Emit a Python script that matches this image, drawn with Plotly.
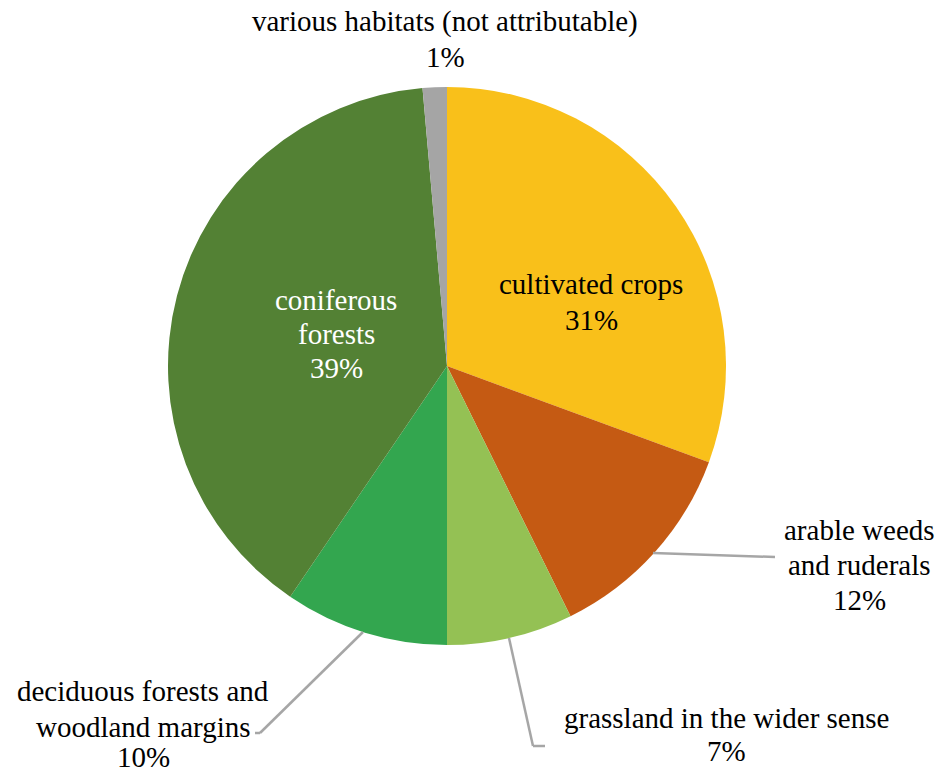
import plotly.graph_objects as go

W, H = 946, 769

categories = ["cultivated crops", "arable weeds and ruderals", "grassland in the wider sense",
              "deciduous forests and woodland margins", "coniferous forests",
              "various habitats (not attributable)"]
values = [30.6, 12.1, 7.3, 9.5, 39.1, 1.4]
pct_labels = ["31%", "12%", "7%", "10%", "39%", "1%"]
colors = ["#F9C01A", "#C55A13", "#94C154", "#33A64F", "#538134", "#A5A5A5"]

# label text split into lines as in the reference
label_lines = [["cultivated crops"], ["arable weeds", "and ruderals"], ["grassland in the wider sense"],
               ["deciduous forests and", "woodland margins"], ["coniferous", "forests"],
               ["various habitats (not attributable)"]]
label_x = [591, 859, 726, 143, 336, 445]
label_y = [[284, 320], [530, 565, 600], [718, 751], [691, 727, 757], [300, 334, 368], [22, 57]]
label_color = ["black", "black", "black", "black", "white", "black"]

FONT = "Liberation Serif"

cx, cy, r = 447, 366, 279

def px(x):
    return x / W

def py(y):
    return 1 - y / H

fig = go.Figure(go.Pie(
    labels=categories, values=values, sort=False, direction="clockwise", rotation=0,
    marker=dict(colors=colors, line=dict(width=0)), textinfo="none", hoverinfo="label+percent",
    domain=dict(x=[px(cx - r), px(cx + r)], y=[py(cy + r), py(cy - r)]),
    showlegend=False,
))

annotations = []
for lines, pc, x, ys, col in zip(label_lines, pct_labels, label_x, label_y, label_color):
    for txt, y in zip(lines + [pc], ys):
        annotations.append(dict(
            x=px(x), y=py(y), xref="paper", yref="paper", xanchor="center", yanchor="middle",
            text=txt, showarrow=False, align="center",
            font=dict(family=FONT, size=29, color=col),
        ))

leaders = [
    [(653, 553), (775, 557)],
    [(509, 638), (533, 746), (545, 746)],
    [(363, 632), (260, 733), (255, 733)],
]
shapes = []
for pts in leaders:
    for (x0, y0), (x1, y1) in zip(pts[:-1], pts[1:]):
        shapes.append(dict(type="line", xref="paper", yref="paper",
                           x0=px(x0), y0=py(y0), x1=px(x1), y1=py(y1),
                           line=dict(color="#A6A6A6", width=2.5)))

fig.update_layout(
    width=W, height=H, margin=dict(l=0, r=0, t=0, b=0),
    paper_bgcolor="white", plot_bgcolor="white",
    font=dict(family=FONT),
    annotations=annotations, shapes=shapes,
)

fig.write_html("out.html", config={"displayModeBar": False},
               post_script="document.body.style.margin='0';document.body.style.padding='0';")
